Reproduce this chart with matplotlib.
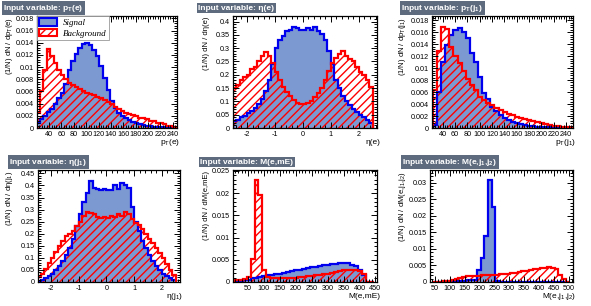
import numpy as np
import matplotlib
matplotlib.use('Agg')
import matplotlib.pyplot as plt
from matplotlib.ticker import MultipleLocator, AutoMinorLocator, FuncFormatter
from matplotlib.patches import Patch

plt.rcParams['font.family'] = ['Liberation Sans', 'DejaVu Sans']
plt.rcParams['mathtext.default'] = 'regular'
plt.rcParams['hatch.linewidth'] = 1.0

# ---- data ----
# pT(e): 40 bins 19..247
pte_range = (19, 247)
pte_sig = [0.0009, 0.0014, 0.0020, 0.0026, 0.0032, 0.0040, 0.0050, 0.0058, 0.0072, 0.0095,
           0.0110, 0.0122, 0.0132, 0.0138, 0.0140, 0.0136, 0.0128, 0.0118, 0.0102, 0.0082,
           0.0062, 0.0045, 0.0033, 0.0025, 0.0020, 0.0016, 0.0013, 0.0010, 0.0008, 0.0006,
           0.0005, 0.0004, 0.0003, 0.0002, 0.0002, 0.0001, 0.0001, 0.0001, 0.0000, 0.0000]
pte_bkg = [0.0025, 0.0060, 0.0095, 0.0130, 0.0118, 0.0106, 0.0096, 0.0087, 0.0080, 0.0074,
           0.0070, 0.0067, 0.0064, 0.0060, 0.0058, 0.0056, 0.0054, 0.0051, 0.0049, 0.0046,
           0.0043, 0.0040, 0.0035, 0.0031, 0.0028, 0.0025, 0.0023, 0.0021, 0.0019, 0.0017,
           0.0016, 0.0014, 0.0012, 0.0011, 0.0009, 0.0008, 0.0006, 0.0004, 0.0003, 0.0002]

# eta(e): 40 bins -2.5..2.5
etae_range = (-2.5, 2.5)
etae_sig = [0.025, 0.030, 0.040, 0.045, 0.055, 0.065, 0.075, 0.090, 0.110, 0.140,
            0.180, 0.240, 0.300, 0.330, 0.345, 0.365, 0.370, 0.380, 0.375, 0.370,
            0.370, 0.375, 0.370, 0.380, 0.365, 0.355, 0.330, 0.290, 0.240, 0.180,
            0.150, 0.120, 0.100, 0.085, 0.070, 0.060, 0.050, 0.040, 0.030, 0.020]
etae_bkg = [0.150, 0.160, 0.180, 0.190, 0.200, 0.220, 0.230, 0.250, 0.270, 0.285,
            0.270, 0.245, 0.210, 0.180, 0.155, 0.135, 0.120, 0.105, 0.095, 0.090,
            0.090, 0.095, 0.100, 0.115, 0.130, 0.150, 0.180, 0.215, 0.245, 0.265,
            0.280, 0.290, 0.270, 0.260, 0.250, 0.230, 0.210, 0.200, 0.180, 0.155]

# pT(j1): 34 bins 24.5..250
ptj_range = (24.5, 250)
ptj_sig = [0.0005, 0.0060, 0.0110, 0.0138, 0.0155, 0.0163, 0.0167, 0.0160, 0.0150, 0.0125,
           0.0110, 0.0085, 0.0058, 0.0048, 0.0035, 0.0028, 0.0022, 0.0017, 0.0013, 0.0010,
           0.0008, 0.0006, 0.0005, 0.0004, 0.0003, 0.0002, 0.0002, 0.0001, 0.0001, 0.0001,
           0.0000, 0.0000, 0.0000, 0.0000]
ptj_bkg = [0.0063, 0.0128, 0.0168, 0.0165, 0.0135, 0.0120, 0.0108, 0.0095, 0.0082, 0.0072,
           0.0063, 0.0052, 0.0047, 0.0042, 0.0038, 0.0034, 0.0030, 0.0027, 0.0024, 0.0021,
           0.0019, 0.0017, 0.0015, 0.0013, 0.0011, 0.0010, 0.0008, 0.0006, 0.0005, 0.0004,
           0.0003, 0.0002, 0.0001, 0.0001]

# eta(j1): 40 bins -2.5..2.5
etaj_range = (-2.5, 2.5)
etaj_sig = [0.005, 0.010, 0.015, 0.025, 0.035, 0.050, 0.065, 0.085, 0.110, 0.140,
            0.180, 0.230, 0.280, 0.330, 0.370, 0.420, 0.390, 0.385, 0.380, 0.385,
            0.380, 0.380, 0.400, 0.385, 0.410, 0.400, 0.390, 0.310, 0.250, 0.210,
            0.170, 0.140, 0.110, 0.085, 0.065, 0.050, 0.035, 0.025, 0.015, 0.010]
etaj_bkg = [0.020, 0.035, 0.055, 0.080, 0.100, 0.125, 0.150, 0.170, 0.190, 0.200,
            0.210, 0.230, 0.250, 0.275, 0.290, 0.285, 0.280, 0.270, 0.265, 0.270,
            0.265, 0.275, 0.270, 0.280, 0.275, 0.290, 0.280, 0.260, 0.245, 0.235,
            0.220, 0.200, 0.180, 0.160, 0.140, 0.120, 0.100, 0.075, 0.050, 0.030]

# M(e,mE): 35 bins 8..445.5
mem_range = (8, 445.5)
mem_sig = [0.0002, 0.0003, 0.0004, 0.0005, 0.0008, 0.0010, 0.0012, 0.0014, 0.0015, 0.0016,
           0.0017, 0.0019, 0.0020, 0.0022, 0.0024, 0.0026, 0.0028, 0.0029, 0.0031, 0.0033,
           0.0034, 0.0036, 0.0038, 0.0039, 0.0040, 0.0041, 0.0042, 0.0043, 0.0043, 0.0039,
           0.0035, 0.0028, 0.0015, 0.0000, 0.0000]
mem_bkg = [0.0004, 0.0004, 0.0006, 0.0012, 0.0052, 0.0230, 0.0195, 0.0028, 0.0012, 0.0009,
           0.0008, 0.0008, 0.0008, 0.0009, 0.0010, 0.0010, 0.0011, 0.0012, 0.0013, 0.0014,
           0.0015, 0.0016, 0.0018, 0.0019, 0.0020, 0.0022, 0.0024, 0.0026, 0.0027, 0.0028,
           0.0028, 0.0024, 0.0018, 0.0000, 0.0000]

# M(e,j1,j2): 37 bins 41..503.5
mejj_range = (41, 503.5)
mejj_sig = [0.0, 0.0, 0.0, 0.0, 0.0, 0.0, 0.0001, 0.0002, 0.0004, 0.0005,
            0.0005, 0.0005, 0.0037, 0.0073, 0.0140, 0.0310, 0.0227, 0.0003, 0.0001, 0.0,
            0.0, 0.0, 0.0, 0.0, 0.0, 0.0, 0.0, 0.0, 0.0, 0.0,
            0.0, 0.0, 0.0, 0.0, 0.0, 0.0, 0.0]
mejj_bkg = [0.0, 0.0, 0.0001, 0.0002, 0.0004, 0.0007, 0.0010, 0.0013, 0.0015, 0.0017,
            0.0018, 0.0019, 0.0019, 0.0020, 0.0020, 0.0021, 0.0021, 0.0022, 0.0023, 0.0024,
            0.0025, 0.0026, 0.0028, 0.0030, 0.0032, 0.0034, 0.0036, 0.0038, 0.0040, 0.0042,
            0.0043, 0.0044, 0.0043, 0.0038, 0.0022, 0.0008, 0.0001]

titles = ['Input variable: p$_T$(e)', 'Input variable: \u03b7(e)', 'Input variable: p$_T$(j$_1$)',
          'Input variable: \u03b7(j$_1$)', 'Input variable: M(e,mE)', 'Input variable: M(e,j$_1$,j$_2$)']
xlabels = ['p$_T$(e)', '\u03b7(e)', 'p$_T$(j$_1$)', '\u03b7(j$_1$)', 'M(e,mE)', 'M(e,j$_1$,j$_2$)']
ylabels = ['(1/N) dN / dp$_T$(e)', '(1/N) dN / d\u03b7(e)', '(1/N) dN / dp$_T$(j$_1$)',
           '(1/N) dN / d\u03b7(j$_1$)', '(1/N) dN / dM(e,mE)', '(1/N) dN / dM(e,j$_1$,j$_2$)']

sig_fill = '#7d99d1'
sig_line = '#0000ee'
bkg_col = '#ff0000'
box_col = '#5e6b7e'

W, H = 591, 306
fig = plt.figure(figsize=(W / 100, H / 100), dpi=100)

# axes boxes in pixels: left, top, right, bottom
boxes = [(37, 16, 177, 128), (233, 16, 377, 128), (432, 16, 573, 128),
         (38, 170, 180, 282), (233, 170, 377, 282), (430, 170, 573, 282)]
xlims = [(20.5, 247), (-2.5, 2.65), (23, 251), (-2.47, 2.66), (3, 455), (33, 515)]
ylims = [0.0184, 0.421, 0.0187, 0.464, 0.0252, 0.0339]
xmajor = [20, 1, 20, 1, 50, 50]
ymajor = [0.002, 0.05, 0.002, 0.05, 0.005, 0.005]
title_x = [1, 196, 399, 7, 198, 400]
ylab_x = [10, 207, 402, 10, 207, 402]

hists = [(pte_range, pte_sig, pte_bkg), (etae_range, etae_sig, etae_bkg),
         (ptj_range, ptj_sig, ptj_bkg), (etaj_range, etaj_sig, etaj_bkg),
         (mem_range, mem_sig, mem_bkg), (mejj_range, mejj_sig, mejj_bkg)]

fmt = FuncFormatter(lambda v, p: '%g' % round(v, 6))

for i, (l, t, r, b) in enumerate(boxes):
    ax = fig.add_axes([l / W, 1 - b / H, (r - l) / W, (b - t) / H])
    rng, sig, bkg = hists[i]
    edges = np.linspace(rng[0], rng[1], len(sig) + 1)
    # signal: filled blue
    ax.stairs(sig, edges, fill=True, color=sig_fill, lw=0)
    # background: red hatch, no fill
    ax.stairs(bkg, edges, fill=True, facecolor='none', edgecolor=bkg_col, hatch='////', lw=0)
    ax.stairs(sig, edges, baseline=0, color=sig_line, lw=1.6)
    ax.stairs(bkg, edges, baseline=0, color=bkg_col, lw=1.6)

    ax.set_xlim(*xlims[i])
    ax.set_ylim(0, ylims[i])
    ax.xaxis.set_major_locator(MultipleLocator(xmajor[i]))
    ax.xaxis.set_minor_locator(AutoMinorLocator(5))
    ax.yaxis.set_major_locator(MultipleLocator(ymajor[i]))
    ax.yaxis.set_minor_locator(AutoMinorLocator(5))
    ax.yaxis.set_major_formatter(fmt)
    ax.xaxis.set_major_formatter(fmt)
    ax.tick_params(which='both', direction='in', top=True, right=True, labelsize=5.2, pad=2, width=0.7)
    ax.tick_params(which='major', length=4)
    ax.tick_params(which='minor', length=2)
    for s in ax.spines.values():
        s.set_linewidth(0.9)

    # title box
    fig.text(title_x[i] / W + 0.004, 1 - (t - 8) / H, titles[i], fontsize=6, fontweight='bold',
             color='white', va='center', ha='left',
             bbox=dict(boxstyle='square,pad=0.2', fc=box_col, ec='none'))
    # y label (top aligned)
    fig.text(ylab_x[i] / W, 1 - (t + 1) / H, ylabels[i], rotation=90, fontsize=5.5,
             ha='center', va='top')
    # x label (right aligned)
    fig.text((r + 3) / W, 1 - (b + 15) / H, xlabels[i], fontsize=6, ha='right', va='center')

    if i == 0:
        handles = [Patch(facecolor=sig_fill, edgecolor=sig_line, lw=1.5),
                   Patch(facecolor='white', edgecolor=bkg_col, hatch='////', lw=1.5)]
        leg = ax.legend(handles, ['Signal', 'Background'], loc='upper left', borderaxespad=0,
                        fancybox=False, framealpha=1, edgecolor='#999999',
                        prop={'family': 'Liberation Serif', 'style': 'italic', 'size': 6.5},
                        handlelength=2.0, handleheight=0.9, labelspacing=0.2,
                        borderpad=0.25, handletextpad=0.6)
        leg.get_frame().set_linewidth(0.6)

fig.savefig('out.png', dpi=100)
